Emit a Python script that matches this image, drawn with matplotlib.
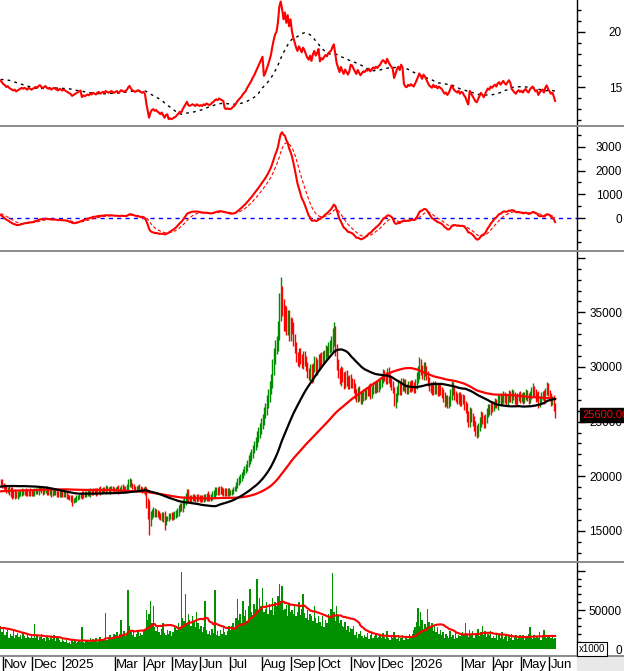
import matplotlib
matplotlib.use('Agg')
import matplotlib.pyplot as plt
import matplotlib.transforms as mtransforms
from matplotlib.lines import Line2D
from matplotlib.patches import Rectangle
from matplotlib.ticker import FixedLocator, FixedFormatter
import numpy as np
import pandas as pd

plt.rcParams['font.family'] = ['Liberation Sans', 'DejaVu Sans']

# trading days per month shown on the chart, and the month captions
month_days = [2, 21, 22, 17, 20, 21, 20, 20, 21, 23, 21, 20, 23, 20, 23, 21, 15, 22, 20, 20, 5]
month_labels = ['', 'Nov', 'Dec', '2025', '', 'Mar', 'Apr', 'May', 'Jun', 'Jul', 'Aug', 'Sep',
                'Oct', 'Nov', 'Dec', '2026', '', 'Mar', 'Apr', 'May', 'Jun']

# closes before the visible window (x100 VND), only used to seed the averages
warmup = [181, 180, 182, 181, 179, 180, 182, 183, 181, 180,
          179, 181, 182, 180, 179, 178, 180, 181, 183, 182,
          181, 183, 184, 182, 181, 180, 182, 183, 182, 181,
          180, 179, 181, 182, 183, 184, 182, 181, 183, 184,
          185, 183, 182, 184, 185, 184, 183, 182, 184, 185,
          184, 183, 185, 184, 183, 184, 185, 184, 183, 185,
          184, 185, 186, 185, 184, 186, 185, 186, 187, 186,
          187, 188, 187, 189, 190, 189, 191, 192, 191, 193,
          194, 193, 195, 196, 195, 197, 196, 198, 197, 196,
          198, 197, 196, 198, 197, 196, 195, 197, 196, 195]
vol_warmup = [30, 25, 28, 22, 35, 27, 24, 31, 26, 29, 23, 33, 28, 25, 30, 27, 24, 29, 26, 28]

# daily close (x100 VND)
close = [194, 192,
         190, 189, 187, 188, 186, 185, 184, 183, 184, 182, 183, 184, 185, 186, 185, 186, 185, 184, 186, 185, 184,
         185, 186, 187, 186, 188, 189, 187, 186, 187, 188, 186, 185, 186, 184, 185, 186, 185, 184, 183, 185, 184, 183,
         184, 183, 182, 181, 180, 179, 177, 178, 179, 180, 181, 182, 183, 182, 184, 183, 184,
         185, 184, 186, 185, 187, 186, 185, 187, 188, 186, 187, 188, 187, 189, 188, 187, 188, 189, 188, 187,
         188, 189, 187, 188, 190, 189, 188, 189, 190, 193, 195, 192, 190, 189, 188, 189, 190, 189, 188, 187, 188,
         186, 175, 166, 158, 164, 167, 168, 166, 167, 165, 164, 162, 164, 161, 158, 161, 162, 163, 164, 163,
         164, 165, 166, 168, 170, 172, 171, 175, 178, 181, 184, 180, 179, 180, 181, 180, 179, 181, 180, 179,
         180, 179, 181, 180, 182, 181, 180, 181, 183, 184, 186, 187, 186, 188, 187, 186, 185, 186, 185, 186, 185,
         185, 186, 188, 189, 192, 195, 197, 199, 201, 204, 206, 208, 212, 215, 218, 221, 225, 228, 232, 236, 240, 244, 248,
         252, 258, 262, 268, 274, 281, 288, 300, 310, 318, 322, 335, 358, 366, 355, 340, 350, 335, 346, 330, 340,
         335, 325, 318, 310, 305, 312, 308, 303, 310, 306, 300, 295, 292, 298, 290, 300, 305, 298, 302, 308,
         305, 310, 308, 312, 315, 313, 318, 320, 322, 328, 332, 316, 302, 295, 288, 296, 290, 285, 292, 288, 284, 289, 286,
         285, 280, 276, 272, 278, 274, 270, 273, 276, 275, 278, 277, 280, 276, 279, 282, 280, 283, 281, 284,
         286, 290, 293, 291, 288, 295, 290, 286, 283, 280, 266, 272, 279, 283, 278, 286, 282, 285, 280, 279, 283, 281, 284,
         282, 280, 285, 290, 296, 302, 298, 293, 300, 297, 292, 287, 282, 280, 278, 283, 279, 281, 277, 280, 278,
         276, 272, 268, 270, 266, 269, 275, 282, 278, 274, 272, 270, 273, 268, 271,
         270, 265, 262, 255, 250, 258, 254, 250, 246, 242, 240, 245, 250, 255, 252, 248, 253, 258, 262, 260, 265, 263,
         266, 268, 265, 270, 272, 268, 271, 274, 270, 268, 272, 275, 271, 276, 273, 270, 268, 272, 274, 271,
         273, 270, 274, 276, 272, 270, 275, 278, 280, 276, 272, 274, 266, 270, 273, 275, 270, 278, 282, 276,
         272, 268, 270, 264, 256]

# shadow length beyond the body (x100 VND)
wick = [2, 3,
        2, 3, 2, 2, 3, 4, 5, 3, 4, 2, 3, 2, 2, 3, 2, 2, 3, 2, 2, 3, 2,
        2, 3, 2, 2, 3, 2, 2, 3, 2, 2, 3, 2, 2, 3, 2, 2, 2, 3, 2, 2, 3, 2,
        2, 2, 3, 2, 2, 3, 4, 2, 2, 3, 2, 2, 2, 3, 2, 2, 2,
        2, 2, 3, 2, 2, 2, 3, 2, 2, 3, 2, 2, 2, 3, 2, 2, 3, 2, 2, 2,
        2, 2, 3, 2, 2, 3, 2, 2, 3, 4, 3, 2, 2, 3, 2, 2, 2, 3, 2, 2, 2,
        3, 4, 5, 12, 4, 3, 4, 3, 3, 2, 3, 2, 3, 3, 7, 3, 2, 3, 2, 3,
        3, 3, 3, 3, 4, 3, 3, 4, 4, 4, 4, 4, 3, 3, 3, 3, 3, 3, 3, 3,
        3, 3, 3, 3, 3, 4, 3, 3, 3, 3, 4, 3, 3, 3, 3, 3, 3, 3, 3, 3, 3,
        2, 2, 2, 2, 3, 3, 3, 3, 3, 3, 3, 3, 3, 4, 4, 4, 4, 4, 4, 5, 5, 5, 5,
        5, 5, 5, 6, 6, 6, 6, 7, 7, 7, 6, 7, 10, 16, 8, 7, 7, 6, 6, 6, 6,
        5, 6, 5, 5, 4, 5, 5, 4, 5, 5, 4, 5, 4, 5, 5, 4, 5, 4, 5, 4,
        5, 4, 5, 4, 5, 4, 5, 5, 6, 8, 9, 6, 5, 5, 4, 5, 4, 5, 4, 5, 4, 4, 5,
        4, 4, 5, 4, 4, 5, 4, 4, 4, 5, 4, 4, 4, 5, 4, 4, 4, 4, 4, 4,
        4, 4, 5, 4, 4, 4, 5, 4, 4, 4, 2, 4, 4, 5, 4, 4, 4, 4, 4, 4, 4, 4, 4,
        4, 4, 4, 5, 5, 7, 5, 4, 5, 5, 4, 4, 4, 4, 4, 4, 4, 4, 4, 4, 4,
        4, 4, 5, 4, 4, 4, 5, 5, 4, 4, 4, 4, 4, 4, 4,
        4, 4, 4, 5, 5, 5, 4, 4, 5, 5, 5, 4, 4, 5, 4, 4, 4, 4, 4, 4, 4, 4,
        3, 4, 3, 4, 3, 4, 3, 4, 3, 4, 3, 4, 3, 4, 3, 4, 3, 4, 3, 4,
        3, 4, 3, 4, 3, 4, 3, 4, 5, 3, 4, 3, 4, 3, 4, 3, 4, 3, 4, 3,
        3, 4, 3, 4, 3]

# daily volume (million shares)
volume = [30, 22,
          28, 18, 22, 27, 15, 20, 17, 24, 14, 19, 21, 16, 18, 13, 22, 17, 15, 20, 16, 14, 18,
          15, 32, 14, 18, 12, 16, 20, 13, 15, 11, 17, 14, 12, 16, 13, 19, 11, 14, 15, 12, 10, 13,
          11, 9, 12, 8, 10, 7, 13, 9, 11, 8, 10, 12, 9, 29, 10, 8, 11,
          12, 10, 14, 9, 13, 11, 15, 10, 12, 16, 11, 13, 14, 46, 12, 15, 18, 13, 16, 20,
          18, 22, 15, 20, 37, 19, 24, 17, 21, 75, 30, 22, 18, 25, 16, 20, 23, 17, 21, 19, 24,
          26, 50, 38, 45, 62, 33, 55, 28, 24, 30, 22, 19, 26, 33, 21, 18, 25, 20, 23, 17,
          22, 30, 27, 25, 34, 28, 99, 40, 36, 71, 33, 45, 38, 30, 42, 35, 28, 48, 33, 26,
          30, 22, 28, 61, 25, 20, 24, 18, 26, 21, 75, 19, 23, 17, 25, 20, 28, 22, 18, 24, 30,
          25, 30, 34, 28, 40, 64, 38, 45, 33, 62, 42, 50, 36, 55, 77, 48, 44, 58, 52, 89, 47, 66, 55,
          78, 48, 52, 60, 45, 58, 50, 66, 44, 60, 55, 68, 83, 62, 80, 50, 52, 56, 42, 58, 47,
          50, 45, 55, 42, 48, 60, 44, 52, 71, 46, 40, 50, 38, 45, 42, 36, 55, 40, 34, 42,
          35, 30, 42, 28, 38, 33, 45, 40, 52, 97, 48, 36, 55, 42, 34, 38, 30, 28, 35, 25, 30, 22, 27,
          26, 30, 18, 22, 15, 20, 24, 17, 14, 19, 16, 21, 13, 18, 22, 15, 17, 20, 14, 16,
          18, 14, 21, 16, 13, 24, 15, 12, 17, 14, 22, 16, 13, 19, 11, 15, 18, 12, 14, 16, 13, 20, 17,
          20, 25, 28, 35, 53, 30, 48, 38, 26, 32, 29, 52, 35, 27, 33, 24, 30, 22, 28, 20, 25,
          18, 22, 15, 20, 17, 14, 24, 16, 19, 13, 21, 15, 18, 17, 20,
          22, 18, 34, 20, 16, 25, 19, 23, 15, 21, 18, 26, 17, 22, 30, 19, 24, 16, 20, 18, 23, 15,
          17, 14, 20, 12, 18, 15, 22, 13, 16, 19, 11, 17, 14, 20, 12, 16, 18, 13, 15, 19,
          15, 18, 12, 17, 14, 20, 28, 16, 13, 19, 15, 17, 14, 22, 12, 18, 25, 16, 14, 19,
          17, 14, 16, 13, 15]

# trailing EPS (VND) used for the P/E line, from the bar where it takes effect
eps_start = [0, 58, 120, 160, 188, 208, 228, 250, 288, 335, 365]
eps_value = [1245, 1290, 1345, 1420, 1610, 1670, 1760, 1680, 1860, 1760, 1860]

last_price = 25600

# ---------------------------------------------------------------- series
n_pre = len(warmup)
n = len(close)
cl = pd.Series(np.array(warmup + close, dtype=float) * 100)
x = np.arange(n)

c = cl.values[n_pre:]
prev = cl.values[n_pre - 1:-1]
wk = np.array(wick) * 100.0
hi = np.maximum(c, prev) + wk
lo = np.minimum(c, prev) - wk
up = c >= prev

ma_fast = cl.rolling(50, min_periods=1).mean().values[n_pre:]
ma_slow = cl.rolling(100, min_periods=1).mean().values[n_pre:]

macd = cl.ewm(span=12, adjust=False).mean() - cl.ewm(span=26, adjust=False).mean()
sig = macd.ewm(span=9, adjust=False).mean()
macd = macd.values[n_pre:]
sig = sig.values[n_pre:]

bar_no = np.arange(len(cl)) - n_pre
k = np.clip(np.searchsorted(eps_start, bar_no, side='right') - 1, 0, None)
pe = cl / np.array(eps_value, dtype=float)[k]
pe_ma = pe.rolling(25, min_periods=1).mean().values[n_pre:]
pe = pe.values[n_pre:]

vol = pd.Series(np.array(vol_warmup + volume, dtype=float) * 1000)
vol_ma = vol.rolling(20, min_periods=1).mean().values[len(vol_warmup):]
vol = vol.values[len(vol_warmup):]

# ---------------------------------------------------------------- layout
W, H = 624, 671
AX_R = 576.5
PX = 1.4
fig = plt.figure(figsize=(W / 100, H / 100), dpi=100)
fig.patch.set_facecolor('white')


def panel(top, bottom):
    return fig.add_axes([0, 1 - bottom / H, AX_R / W, (bottom - top) / H])


def style(ax, ylim, majors, labels, minors):
    ax.set_xlim(-0.5, (AX_R - 0.7) / PX)
    ax.set_ylim(*ylim)
    for s in ['top', 'bottom', 'left']:
        ax.spines[s].set_visible(False)
    ax.spines['right'].set_linewidth(1.0)
    ax.set_xticks([])
    ax.yaxis.tick_right()
    ax.yaxis.set_major_locator(FixedLocator(majors))
    ax.yaxis.set_major_formatter(FixedFormatter(labels))
    ax.yaxis.set_minor_locator(FixedLocator(minors))
    ax.tick_params(axis='y', which='major', length=5.8, width=1, pad=27, labelsize=8.5, direction='out')
    ax.tick_params(axis='y', which='minor', length=2.9, width=1, direction='out')
    for t in ax.get_yticklabels():
        t.set_horizontalalignment('right')


ax1 = panel(0, 124)
ax2 = panel(127, 249)
ax3 = panel(252, 560)
ax4 = panel(563, 655)

# P/E panel
ax1.plot(x, pe_ma, color='black', lw=1.0, ls=(0, (2, 3)))
ax1.plot(x, pe, color='#ff0000', lw=1.5)
style(ax1, (11.68, 22.86), [15, 20], ['15', '20'], list(range(12, 23)))

# MACD panel
ax2.axhline(0, color='#0000ff', lw=1.0, ls=(0, (3, 3)))
ax2.plot(x, sig, color='#ff0000', lw=0.8, ls=(0, (3, 2)))
ax2.plot(x, macd, color='#ff0000', lw=1.5)
style(ax2, (-1285, 3824), [0, 1000, 2000, 3000], ['0', '1000', '2000', '3000'],
      list(range(-1000, 3501, 500)))

# price panel
ax3.vlines(x[up], lo[up], hi[up], color='#008c00', lw=1.0)
ax3.vlines(x[~up], lo[~up], hi[~up], color='#ff0000', lw=1.0)
ax3.plot(x, ma_slow, color='#ff0000', lw=1.6)
ax3.plot(x, ma_fast, color='black', lw=1.6)
style(ax3, (12326, 40531), [15000, 20000, 25000, 30000, 35000, 40000],
      ['15000', '20000', '25000', '30000', '35000', ''], list(range(13000, 40001, 1000)))
tr = mtransforms.blended_transform_factory(ax3.transAxes, ax3.transData)
ax3.text(582 / AX_R, last_price, '%.2f' % last_price, transform=tr, color='#ff0000',
         fontsize=8, va='center', ha='left', clip_on=False, zorder=10,
         bbox=dict(facecolor='black', edgecolor='black', pad=1.2))

# volume panel
ax4.bar(x, vol, width=0.95, color='#009000', linewidth=0)
ax4.plot(x, vol_ma, color='#ff0000', lw=1.5)
style(ax4, (-7000, 109800), [0, 50000, 100000], ['0', '50000', ''],
      list(range(10000, 100001, 10000)))
fig.text(592 / W, 1 - 649 / H, 'x1000', fontsize=7, ha='center', va='center',
         bbox=dict(facecolor='white', edgecolor='black', lw=0.8, pad=1.2))

# date strip
ax5 = fig.add_axes([0, 0, AX_R / W, (H - 656) / H])
ax5.set_xlim(-0.5, (AX_R - 0.7) / PX)
ax5.set_ylim(0, 1)
ax5.axis('off')
start = np.concatenate([[0], np.cumsum(month_days)[:-1]])
for s, lab in zip(start, month_labels):
    if not lab:
        continue
    ax5.plot([s - 0.5, s - 0.5], [0, 1], color='black', lw=1.0)
    ax5.text(s + 0.6, 0.42, lab, fontsize=9.5, ha='left', va='center')
fig.patches.append(Rectangle((AX_R / W, 0), 1 - AX_R / W, (H - 656) / H,
                             transform=fig.transFigure, color='#e8e8e8', zorder=0))

# panel separators
for yy in [125.5, 250.5, 561.5, 655.5]:
    fig.add_artist(Line2D([0, 1], [1 - yy / H] * 2, color='#8a8a8a', lw=1.4,
                          transform=fig.transFigure))

fig.savefig('out.png', dpi=100)
